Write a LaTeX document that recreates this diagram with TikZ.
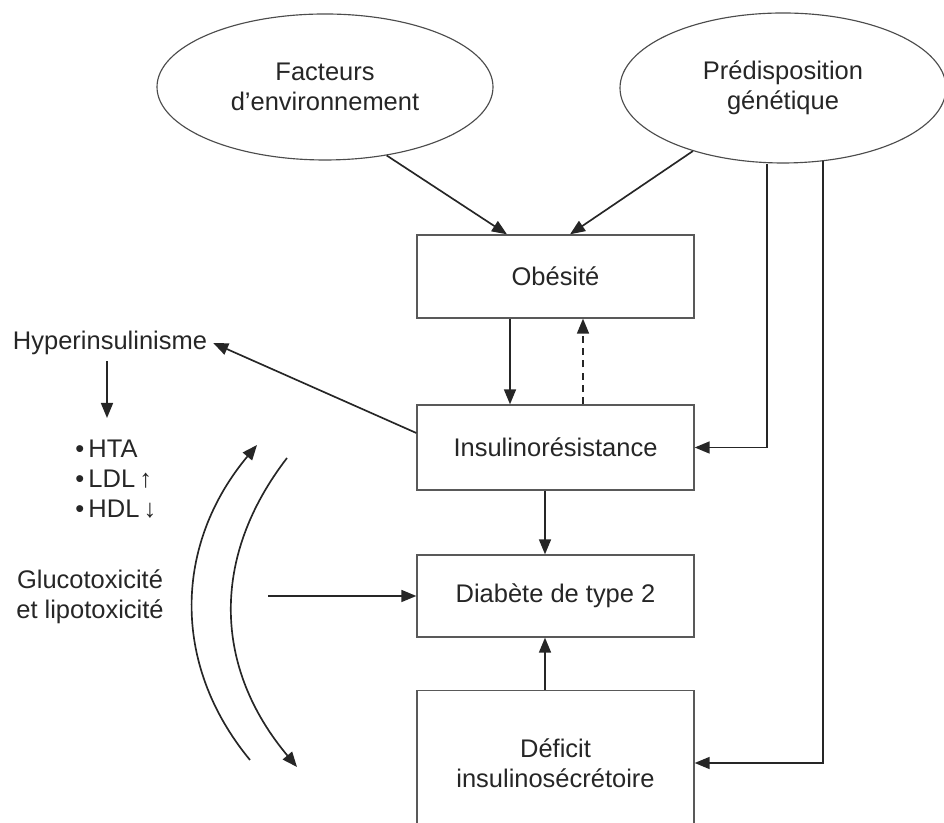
\documentclass[tikz,border=0pt]{standalone}
\usepackage{fontspec}
\setmainfont{Liberation Sans}
\usetikzlibrary{shapes.geometric,arrows.meta}
\begin{document}
\begin{tikzpicture}[font=\fontsize{14.5}{17}\selectfont,
    every node/.style={text=black!85},
    bloc/.style={draw=black!65,line width=0.75pt,minimum width=5.54cm,align=center},
    nuage/.style={ellipse,draw=black!70,line width=0.65pt,inner sep=0pt,align=center},
    fl/.style={-{Triangle[length=3mm,width=2.4mm]},line width=0.95pt,draw=black!85}]
        \clip (0,0) rectangle (18.88,16.46);
        \node[nuage,minimum width=6.72cm,minimum height=2.92cm] (env) at (6.5,14.72) {Facteurs\\d’environnement};
        \node[nuage,minimum width=6.52cm,minimum height=3cm] (gen) at (15.66,14.7) {Prédisposition\\génétique};
        \node[bloc,minimum height=1.66cm] (obes) at (11.11,10.93) {Obésité};
        \node[bloc,minimum height=1.7cm] (ins) at (11.11,7.51) {Insulinorésistance};
        \node[bloc,minimum height=1.64cm] (diab) at (11.11,4.54) {Diabète de type 2};
        \node[bloc,minimum height=2.9cm] (def) at (11.11,1.2) {Déficit\\insulinosécrétoire};
        \node (hyper) at (2.2,9.6) {Hyperinsulinisme};
        \node[anchor=north west,inner sep=0pt,align=left] (lip) at (1.5,7.66) {•\,HTA\\•\,LDL\,↑\\•\,HDL\,↓};
        \node[align=center] (gluc) at (1.8,4.52) {Glucotoxicité\\et lipotoxicité};
        \coordinate (hb) at (2.14,8.1);
        \coordinate (gl) at (5.36,4.54);
        \draw[fl] (env.-48) -- ([xshift=-0.97cm]obes.north);
        \draw[fl] (gen.-145) -- ([xshift=0.29cm]obes.north);
        \draw[fl] ([xshift=-0.32cm]gen.south) |- (ins.east);
        \draw[fl] ([xshift=0.8cm,yshift=0.05cm]gen.south) |- (def.east);
        \draw[fl] ([xshift=-0.91cm]obes.south) -- ([xshift=-0.91cm]ins.north);
        \draw[fl,dash pattern=on 4pt off 3pt] ([xshift=0.55cm]ins.north) -- ([xshift=0.55cm]obes.south);
        \draw[fl] ([xshift=-0.21cm]ins.south) -- ([xshift=-0.21cm]diab.north);
        \draw[fl] ([xshift=-0.21cm]def.north) -- ([xshift=-0.21cm]diab.south);
        \draw[fl] ([yshift=0.29cm]ins.west) -- (hyper.east);
        \draw[fl] ([xshift=-0.06cm]hyper.south) -- (hb);
        \draw[fl] (gl) -- (diab.west);
        \draw[fl] (5.0,1.26) .. controls (3.4,3.2) and (3.5,5.6) .. (5.14,7.56);
        \draw[fl] (5.74,7.3) .. controls (4.2,5.3) and (4.28,3.1) .. (5.94,1.12);
    \end{tikzpicture}
\end{document}
